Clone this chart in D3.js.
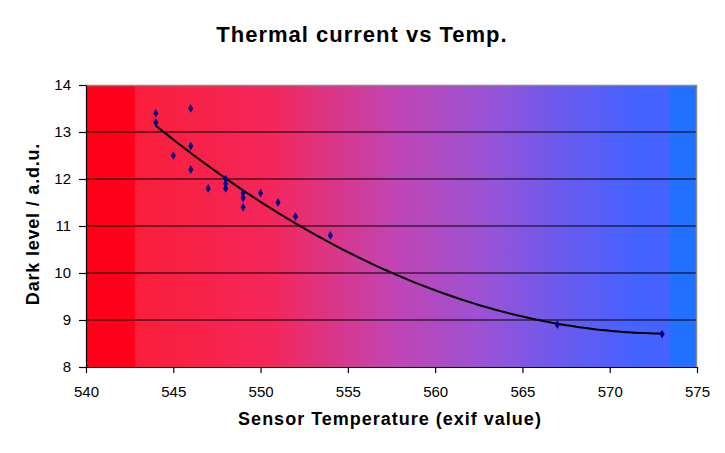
<!DOCTYPE html>
<html><head><meta charset="utf-8">
<script src="https://cdn.jsdelivr.net/npm/d3@7/dist/d3.min.js"></script>
<style>body{margin:0;background:#fff}svg{display:block}text{font-family:"Liberation Sans",Arial,sans-serif}</style>
</head><body><svg id="c" width="725" height="453"></svg>
<script>
const temps = [544,544,545,546,546,546,547,548,548,548,549,549,549,550,551,552,554,567,573];
const darkLevels = [13.4,13.2,12.5,13.5,12.7,12.2,11.8,12.0,11.9,11.8,11.7,11.6,11.4,11.7,11.5,11.2,10.8,8.9,8.7];
const xTicks = [540,545,550,555,560,565,570,575];
const yTicks = [8,9,10,11,12,13,14];
const title = "Thermal current vs Temp.";
const xTitle = "Sensor Temperature (exif value)";
const yTitle = "Dark level / a.d.u.";

const svg = d3.select("#c");
const L=86,R=697,T=85,B=367;
const x = d3.scaleLinear().domain([540,575]).range([L,R]);
const y = d3.scaleLinear().domain([8,14]).range([B,T]);

const defs = svg.append("defs");
const g = defs.append("linearGradient").attr("id","bg");
[[0,"#ff0018"],[0.08,"#ff001e"],[0.081,"#fa1e3a"],[0.3,"#f4265a"],[0.5,"#c244b2"],[0.65,"#9c52d4"],[0.78,"#6a5aee"],[0.9,"#4562ff"],[0.955,"#4462ff"],[0.956,"#2270ff"],[1,"#2270ff"]]
  .forEach(([o,c])=>g.append("stop").attr("offset",o).attr("stop-color",c));
svg.append("rect").attr("x",L).attr("y",T).attr("width",R-L).attr("height",B-T).attr("fill","url(#bg)");

// gridlines
svg.append("g").selectAll("line").data(yTicks.filter(v=>v>8&&v<14)).join("line")
  .attr("x1",L).attr("x2",R).attr("y1",d=>y(d)).attr("y2",d=>y(d)).attr("stroke","#000").attr("stroke-width",1.2);
// border top/right gray
svg.append("path").attr("d",`M${L},${T+0.5}H${R-0.5}V${B}`).attr("fill","none").attr("stroke","#888").attr("stroke-width",1.5);

// trend: quadratic least squares from data
function polyfit(xs,ys){
  const x0=d3.mean(xs);
  let S=[0,0,0,0,0],Sy=[0,0,0];
  xs.forEach((xv,i)=>{const t=xv-x0;for(let k=0;k<5;k++)S[k]+=t**k;for(let k=0;k<3;k++)Sy[k]+=ys[i]*t**k;});
  const M=[[S[0],S[1],S[2],Sy[0]],[S[1],S[2],S[3],Sy[1]],[S[2],S[3],S[4],Sy[2]]];
  for(let i=0;i<3;i++){for(let j=i+1;j<3;j++){const f=M[j][i]/M[i][i];for(let k=i;k<4;k++)M[j][k]-=f*M[i][k];}}
  const c=[0,0,0];
  for(let i=2;i>=0;i--){let s=M[i][3];for(let k=i+1;k<3;k++)s-=M[i][k]*c[k];c[i]=s/M[i][i];}
  return v=>{const t=v-x0;return c[0]+c[1]*t+c[2]*t*t;};
}
const fit = polyfit(temps,darkLevels);
const xs = d3.range(d3.min(temps), d3.max(temps)+0.001, 0.25);
svg.append("path").datum(xs).attr("fill","none").attr("stroke","#000").attr("stroke-width",2)
  .attr("d",d3.line().x(d=>x(d)).y(d=>y(fit(d))));

// points
svg.append("g").selectAll("path").data(temps.map((t,i)=>[t,darkLevels[i]])).join("path")
  .attr("transform",d=>`translate(${x(d[0])},${y(d[1])})`)
  .attr("d",d3.symbol(d3.symbolDiamond,22)).attr("fill","#00008b");

// axes
const xa = svg.append("g").attr("transform",`translate(0,${B})`)
  .call(d3.axisBottom(x).tickValues(xTicks).tickFormat(d3.format("d")).tickSize(6).tickSizeOuter(0).tickPadding(13));
const ya = svg.append("g").attr("transform",`translate(${L},0)`)
  .call(d3.axisLeft(y).tickValues(yTicks).tickFormat(d3.format("d")).tickSize(7).tickSizeOuter(0).tickPadding(8));
[xa,ya].forEach(a=>{a.selectAll("path,line").attr("stroke","#000").attr("stroke-width",1.2);
  a.selectAll("text").attr("font-size",15).attr("fill","#000").style("font-family","Liberation Sans, Arial");});

svg.append("text").attr("x",362).attr("y",42).attr("text-anchor","middle").attr("font-size",22).attr("font-weight","bold").attr("letter-spacing",1).text(title);
svg.append("text").attr("x",390).attr("y",425).attr("text-anchor","middle").attr("font-size",18).attr("font-weight","bold").attr("letter-spacing",1).text(xTitle);
svg.append("text").attr("transform","translate(39,224) rotate(-90)").attr("text-anchor","middle").attr("font-size",18).attr("font-weight","bold").attr("letter-spacing",0.8).text(yTitle);
</script></body></html>
